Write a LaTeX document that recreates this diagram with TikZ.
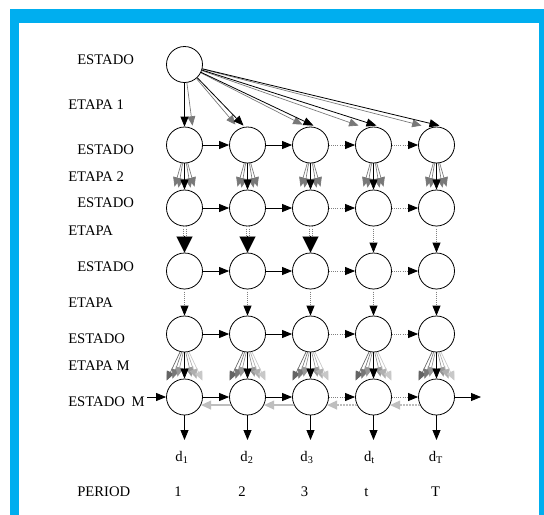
\documentclass[tikz,border=0pt]{standalone}
\usepackage{fontspec}
\setmainfont{Liberation Serif}
\usetikzlibrary{arrows.meta,calc}
\definecolor{frame}{RGB}{0,174,239}
\definecolor{gA}{RGB}{100,100,100}
\definecolor{gB}{RGB}{120,120,120}
\definecolor{gC}{RGB}{150,150,150}
\definecolor{gD}{RGB}{175,175,175}
\definecolor{gE}{RGB}{200,200,200}
\definecolor{lg}{RGB}{190,190,190}
\tikzset{
  st/.style={circle,draw,line width=0.6pt,minimum size=27pt,inner sep=0pt},
  lbl/.style={anchor=base west,inner sep=0pt,font=\fontsize{11}{13}\selectfont},
  num/.style={anchor=base,inner sep=0pt,font=\fontsize{11}{13}\selectfont},
  blk/.style={line width=0.6pt,-{Triangle[length=7.5pt,width=6pt]}},
  dot/.style={gray,line width=0.6pt,densely dotted,-{Triangle[length=7.5pt,width=6pt,color=black]}},
  gfan/.style={line width=0.5pt,-{Triangle[length=7pt,width=6pt]}},
  big/.style={line width=0.1pt,-{Triangle[length=12pt,width=12pt]}},
  ddot/.style={gray,line width=0.6pt,densely dotted},
  back/.style={lg,line width=1.3pt,-{Triangle[length=7.5pt,width=6.5pt]}},
  backdot/.style={back,densely dotted}
}
\begin{document}
\begin{tikzpicture}[x=0.75pt,y=-0.75pt]
\useasboundingbox (0,0) rectangle (544,515);
\fill[frame] (10,9) rectangle (544,515);
\fill[white] (19,23) rectangle (539,515);

% nodes
\node[st] (top) at (184.5,64.5) {};
\foreach \r/\y in {1/145,2/208,3/271,4/334,5/397}
  \foreach \c/\x in {1/184.5,2/247.5,3/310.5,4/373.5,5/436.5}
    \node[st] (n\r\c) at (\x,\y) {};

% labels
\node[lbl] (l0) at (77,64.5) {ESTADO};
\node[lbl] (l1) at (68,109) {ETAPA 1};
\node[lbl] (l2) at (77,154) {ESTADO};
\node[lbl] (l3) at (68,181) {ETAPA 2};
\node[lbl] (l4) at (77,207) {ESTADO};
\node[lbl] (l5) at (68,235) {ETAPA};
\node[lbl] (l6) at (77,271) {ESTADO};
\node[lbl] (l7) at (68,307.5) {ETAPA};
\node[lbl] (l8) at (68,343) {ESTADO};
\node[lbl] (l9) at (68,370) {ETAPA M};
\node[lbl] (l10) at (68,406) {ESTADO\hspace{0.45em}M};
\node[lbl] (l11) at (77,496) {PERIOD};

% top fan
\draw[gfan,gB] (top) -- ($(n11.north)+(8,-1)$);
\draw[blk] (top) -- (n11.north);
\draw[gfan,gB] (top) -- ($(n12.north)+(-12,-2)$);
\draw[blk] (top) -- ($(n12.north)+(-4,-1)$);
\draw[gfan,gB] (top) -- ($(n13.north)+(-8,-2)$);
\draw[blk] (top) -- ($(n13.north)+(3,-1)$);
\draw[gfan,gB] (top) -- ($(n14.north)+(-15,-1)$);
\draw[blk] (top) -- ($(n14.north)+(3,-1)$);
\draw[gfan,gB] (top) -- ($(n15.north)+(-15,-1)$);
\draw[blk] (top) -- ($(n15.north)+(3,-1)$);

% horizontal arrows
\foreach \r in {1,...,5} {
  \draw[blk] (n\r1) -- (n\r2);
  \draw[blk] (n\r2) -- (n\r3);
  \draw[dot] (n\r3) -- (n\r4);
  \draw[dot] (n\r4) -- (n\r5);
}

\foreach \c in {1,...,5} {
  % stage 2 fan
  \draw[gfan,gB] (n1\c.-100) -- ($(n2\c.north)+(-10,-3)$);
  \draw[gfan,gB] (n1\c.-96) -- ($(n2\c.north)+(-6,-2)$);
  \draw[gfan,gB] (n1\c.-84) -- ($(n2\c.north)+(6,-2)$);
  \draw[gfan,gB] (n1\c.-80) -- ($(n2\c.north)+(10,-3)$);
  \draw[blk] (n1\c) -- (n2\c);
  % stage 4
  \draw[dot] (n3\c) -- (n4\c);
  % stage M fan
  \draw[gfan,gA] (n4\c.-104) -- ($(n5\c.north)+(-18,2)$);
  \draw[gfan,gB] (n4\c.-99) -- ($(n5\c.north)+(-12,0)$);
  \draw[gfan,gC] (n4\c.-94) -- ($(n5\c.north)+(-7,-2)$);
  \draw[gfan,gC] (n4\c.-86) -- ($(n5\c.north)+(7,-2)$);
  \draw[gfan,gD] (n4\c.-81) -- ($(n5\c.north)+(12,0)$);
  \draw[gfan,gE] (n4\c.-76) -- ($(n5\c.north)+(18,2)$);
  \draw[blk] (n4\c) -- (n5\c);
}

% stage 3 (big heads)
\foreach \c in {1,2,3} {
  \draw[ddot] ($(n2\c.south)+(-1.5,0)$) -- ($(n3\c.north)+(-1.5,-14)$);
  \draw[ddot] ($(n2\c.south)+(1.5,0)$) -- ($(n3\c.north)+(1.5,-14)$);
  \draw[big] ($(n3\c.north)+(0,-17)$) -- (n3\c.north);
}
\foreach \c in {4,5} {
  \draw[dot] (n2\c) -- (n3\c);
}

% last row extras
\coordinate (in5) at (147,397);
\coordinate (out5) at (481,397);
\draw[blk] (in5) -- (n51);
\draw[blk] (n55) -- (out5);
\draw[back] (n52.206) -- (n51.-26);
\draw[back] (n53.206) -- (n52.-26);
\draw[backdot] (n54.206) -- (n53.-26);
\draw[backdot] (n55.206) -- (n54.-26);

% demands
\foreach \c/\x in {1/184.5,2/247.5,3/310.5,4/373.5,5/436.5} {
  \coordinate (e\c) at (\x,440);
  \draw[blk] (n5\c) -- (e\c);
}
\node[num] (d1) at (182,461.5) {d\textsubscript{1}};
\node[num] (d2) at (247,461.5) {d\textsubscript{2}};
\node[num] (d3) at (307,461.5) {d\textsubscript{3}};
\node[num] (d4) at (369.5,461.5) {d\textsubscript{t}};
\node[num] (d5) at (436,461.5) {d\textsubscript{T}};

\node[num] (p1) at (178,496) {1};
\node[num] (p2) at (242,496) {2};
\node[num] (p3) at (304.5,496) {3};
\node[num] (p4) at (366.5,496) {t};
\node[num] (p5) at (435.5,496) {T};
\end{tikzpicture}
\end{document}
